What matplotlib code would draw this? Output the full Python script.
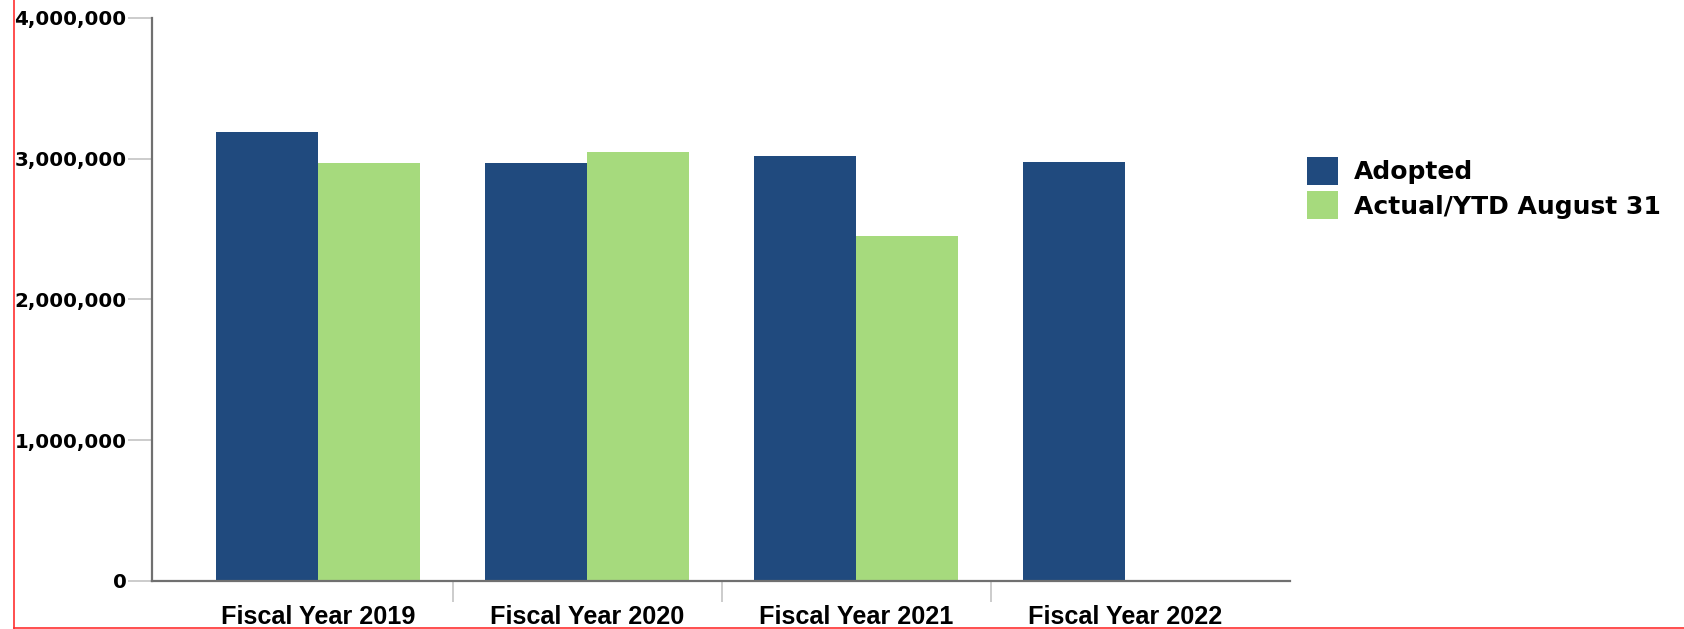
import matplotlib
matplotlib.use("Agg")
import matplotlib.pyplot as plt
from matplotlib.lines import Line2D
from matplotlib.ticker import FuncFormatter

# budget per fiscal year, adopted vs. actual (year to date through Aug 31)
years = ["Fiscal Year 2019", "Fiscal Year 2020", "Fiscal Year 2021", "Fiscal Year 2022"]
adopted = [3190000, 2969000, 3018000, 2976000]
actual = [2969000, 3047000, 2450000]
series_names = ["Adopted", "Actual/YTD August 31"]

navy = "#204A7E"
green = "#A6DA7D"
bar_w = 0.379

fig = plt.figure(figsize=(16.84, 6.29), dpi=100)
ax = fig.add_axes([152 / 1684, 1 - 581 / 629, (1290 - 152) / 1684, (581 - 17.7) / 629])

x_adopted = [i - bar_w / 2 for i in range(len(adopted))]
x_actual = [i + bar_w / 2 for i in range(len(actual))]
ax.bar(x_adopted, adopted, width=bar_w, color=navy, label=series_names[0])
ax.bar(x_actual, actual, width=bar_w, color=green, label=series_names[1])

ax.set_xlim(-0.617, 3.613)
ax.set_ylim(0, 4000000)

for side in ["top", "right"]:
    ax.spines[side].set_visible(False)
for side in ["left", "bottom"]:
    ax.spines[side].set_color("#707070")
    ax.spines[side].set_linewidth(1.6)

# y axis: light grey ticks outside, bold comma-separated labels
ax.set_yticks([0, 1000000, 2000000, 3000000, 4000000])
ax.yaxis.set_major_formatter(FuncFormatter(lambda v, p: f"{int(v):,}"))
ax.tick_params(axis="y", length=17.3, width=1.2, color="#c4c4c4", pad=1)
for lbl in ax.get_yticklabels():
    lbl.set_fontfamily("DejaVu Sans")
    lbl.set_fontweight("bold")
    lbl.set_fontsize(14.3)

# x axis: labels at group centers, separator ticks between groups
ax.set_xticks(range(len(years)))
ax.set_xticklabels(years, fontfamily="Liberation Sans", fontweight="bold", fontsize=18.2)
ax.tick_params(axis="x", which="major", length=0, pad=17)
ax.set_xticks([0.5, 1.5, 2.5], minor=True)
ax.tick_params(axis="x", which="minor", length=15, width=1.2, color="#c4c4c4")

fig.legend(loc="upper left", bbox_to_anchor=(1307 / 1684, 1 - 157 / 629),
           frameon=False, borderpad=0, borderaxespad=0,
           prop={"family": "DejaVu Sans", "weight": "bold", "size": 18},
           handlelength=1.24, handleheight=1.346, handletextpad=0.64,
           labelspacing=0.25)

# red frame lines along the left and bottom edges
fig.add_artist(Line2D([13.5 / 1684, 13.5 / 1684], [0, 1], color="#ff3030", lw=1.2))
fig.add_artist(Line2D([13.5 / 1684, 1], [1.5 / 629, 1.5 / 629], color="#ff3030", lw=1.2))

fig.savefig("out.png", dpi=100)
